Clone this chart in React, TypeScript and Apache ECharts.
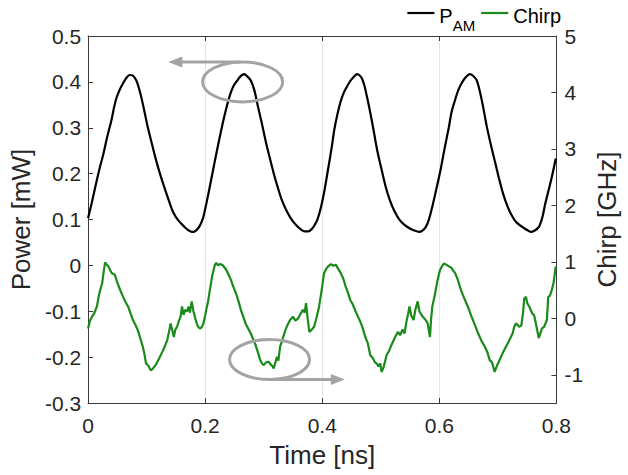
import React, { useEffect, useRef } from "react";
import * as echarts from "echarts";

// ---- Data ----
const xTicks = [0, 0.2, 0.4, 0.6, 0.8];
const chirpTickValues = [-1, 0, 1, 2, 3, 4, 5];

const powerTime = [
  0, 0.006, 0.0123, 0.019, 0.0263, 0.033, 0.04, 0.0445, 0.0487, 0.054, 0.0598, 0.065, 0.071,
  0.076, 0.082, 0.086, 0.0906, 0.096, 0.1018, 0.109, 0.116, 0.123, 0.13, 0.138, 0.146, 0.154, 0.16, 0.166, 0.172, 0.177, 0.182, 0.188,
  0.193, 0.197, 0.205, 0.2135, 0.222, 0.23, 0.236, 0.2415, 0.248, 0.2555, 0.261, 0.2667,
  0.272, 0.278, 0.284, 0.289, 0.296, 0.303, 0.31, 0.317, 0.324, 0.331, 0.339, 0.348, 0.356, 0.363, 0.37, 0.376, 0.382,
  0.387, 0.392, 0.398, 0.404, 0.41, 0.416, 0.4205, 0.426, 0.4316, 0.437, 0.4428, 0.448, 0.454, 0.4595,
  0.464, 0.468, 0.472, 0.4763, 0.482, 0.4876, 0.494, 0.5015, 0.508, 0.5154, 0.523, 0.532, 0.54, 0.549, 0.557, 0.5657, 0.571, 0.577,
  0.582, 0.588, 0.595, 0.602, 0.609, 0.6161, 0.621, 0.627, 0.632, 0.638, 0.645, 0.652,
  0.657, 0.6636, 0.669, 0.6747, 0.681, 0.6887, 0.696, 0.7026, 0.709, 0.7166, 0.724, 0.7307, 0.738, 0.745, 0.75, 0.756, 0.763, 0.77,
  0.776, 0.781, 0.7865, 0.7922, 0.7989,
];
const powerValues = [
  0.103, 0.135, 0.171, 0.208, 0.244, 0.282, 0.317, 0.345, 0.366, 0.383, 0.397, 0.408, 0.415,
  0.414, 0.404, 0.39, 0.368, 0.337, 0.302, 0.265, 0.23, 0.199, 0.171, 0.141, 0.114, 0.098, 0.09, 0.082, 0.076, 0.073, 0.074, 0.081,
  0.092, 0.106, 0.153, 0.208, 0.262, 0.31, 0.342, 0.368, 0.39, 0.404, 0.413, 0.417,
  0.412, 0.403, 0.382, 0.353, 0.314, 0.273, 0.236, 0.201, 0.17, 0.142, 0.119, 0.099, 0.087, 0.079, 0.074, 0.074, 0.079,
  0.088, 0.101, 0.128, 0.165, 0.21, 0.256, 0.295, 0.33, 0.358, 0.377, 0.391, 0.402, 0.411, 0.417,
  0.414, 0.407, 0.392, 0.368, 0.333, 0.295, 0.25, 0.208, 0.173, 0.142, 0.119, 0.099, 0.089, 0.081, 0.076, 0.073, 0.076, 0.084,
  0.099, 0.128, 0.167, 0.208, 0.255, 0.3, 0.335, 0.361, 0.381, 0.397, 0.41, 0.417,
  0.414, 0.404, 0.38, 0.346, 0.303, 0.259, 0.221, 0.186, 0.156, 0.128, 0.108, 0.095, 0.087, 0.081, 0.077, 0.073, 0.076, 0.084,
  0.105, 0.135, 0.163, 0.193, 0.233,
];

const chirpTime = [
  0, 0.003, 0.0067, 0.011, 0.0151, 0.018, 0.0207, 0.024, 0.0263, 0.029, 0.032, 0.0347, 0.037, 0.0403, 0.043, 0.0458, 0.049, 0.0515,
  0.056, 0.0599, 0.064, 0.0683, 0.072, 0.0766, 0.081, 0.085, 0.089, 0.0934, 0.096, 0.099, 0.103, 0.107, 0.11, 0.113, 0.116, 0.1185,
  0.122, 0.127, 0.131, 0.1353, 0.138, 0.141, 0.144, 0.1465, 0.149, 0.152, 0.155, 0.158, 0.1605, 0.163, 0.166, 0.169, 0.1716, 0.174,
  0.177, 0.18, 0.183, 0.1857, 0.188, 0.191, 0.194, 0.197, 0.2, 0.2024, 0.205, 0.208, 0.212, 0.2164, 0.219, 0.222, 0.226, 0.23,
  0.233, 0.236, 0.24, 0.244, 0.248, 0.2527, 0.257, 0.261, 0.265, 0.269, 0.273, 0.2779, 0.282, 0.286, 0.29, 0.294, 0.297, 0.3,
  0.304, 0.3086, 0.312, 0.315, 0.317, 0.32, 0.3225, 0.325, 0.328, 0.332, 0.336, 0.34, 0.345, 0.35, 0.354, 0.3589, 0.363, 0.367,
  0.37, 0.3723, 0.375, 0.378, 0.382, 0.386, 0.39, 0.3946, 0.399, 0.403, 0.407, 0.411, 0.415, 0.419, 0.423, 0.427, 0.4316, 0.436,
  0.44, 0.444, 0.448, 0.452, 0.457, 0.461, 0.465, 0.469, 0.4735, 0.478, 0.4819, 0.486, 0.49, 0.493, 0.496, 0.499, 0.5015, 0.505,
  0.51, 0.514, 0.517, 0.521, 0.525, 0.5295, 0.533, 0.537, 0.5405, 0.544, 0.547, 0.549, 0.552, 0.556, 0.559, 0.563, 0.566, 0.5714,
  0.575, 0.578, 0.58, 0.584, 0.586, 0.588, 0.592, 0.597, 0.601, 0.605, 0.608, 0.612, 0.6161, 0.62, 0.624, 0.627, 0.631, 0.636,
  0.64, 0.644, 0.649, 0.655, 0.66, 0.6664, 0.672, 0.6776, 0.682, 0.686, 0.69, 0.6945, 0.698, 0.703, 0.708, 0.714, 0.719, 0.7251,
  0.728, 0.7307, 0.734, 0.7363, 0.74, 0.743, 0.745, 0.748, 0.75, 0.754, 0.7585, 0.762, 0.766, 0.7698, 0.773, 0.7753, 0.779, 0.7837,
  0.786, 0.789, 0.792, 0.795, 0.7989,
];
const chirpValues = [
  -0.18, -0.05, 0.03, 0.1, 0.21, 0.38, 0.5, 0.62, 0.8, 0.99, 0.95, 0.92, 0.87, 0.8, 0.79, 0.77, 0.66, 0.59,
  0.47, 0.38, 0.29, 0.21, 0.1, -0.03, -0.12, -0.21, -0.35, -0.5, -0.62, -0.8, -0.84, -0.92, -0.9, -0.86, -0.82, -0.77,
  -0.7, -0.59, -0.5, -0.38, -0.25, -0.09, -0.22, -0.33, -0.2, -0.15, -0.05, 0.03, 0.21, 0.06, 0.15, 0.12, 0.21, 0.1,
  0.3, 0.12, 0.0, -0.09, -0.15, -0.18, -0.16, -0.09, 0.05, 0.18, 0.3, 0.5, 0.75, 0.94, 0.98, 0.94, 0.96, 0.94,
  0.9, 0.86, 0.77, 0.68, 0.56, 0.44, 0.3, 0.15, 0.03, -0.09, -0.17, -0.27, -0.37, -0.47, -0.6, -0.74, -0.8, -0.83,
  -0.78, -0.77, -0.82, -0.85, -0.89, -0.78, -0.68, -0.75, -0.5, -0.38, -0.24, -0.13, -0.03, 0.03, -0.04, 0.0, 0.08, 0.15,
  0.1, 0.27, 0.0, -0.24, -0.2, -0.15, 0.0, 0.21, 0.5, 0.8, 0.88, 0.93, 0.96, 0.93, 0.95, 0.88, 0.8, 0.7,
  0.56, 0.45, 0.32, 0.25, 0.12, 0.03, -0.06, -0.17, -0.33, -0.45, -0.65, -0.7, -0.78, -0.8, -0.85, -0.8, -0.95, -0.86,
  -0.65, -0.58, -0.5, -0.41, -0.32, -0.24, -0.3, -0.2, -0.27, -0.05, 0.1, 0.21, 0.05, -0.03, 0.15, 0.3, 0.12, 0.03,
  -0.01, -0.05, -0.09, -0.33, 0.0, 0.21, 0.4, 0.68, 0.85, 0.93, 0.97, 0.95, 0.92, 0.9, 0.84, 0.8, 0.7, 0.53,
  0.42, 0.32, 0.2, 0.03, -0.1, -0.27, -0.4, -0.5, -0.6, -0.74, -0.78, -0.95, -0.85, -0.74, -0.62, -0.5, -0.4, -0.27,
  -0.15, -0.09, -0.12, -0.15, -0.13, 0.1, 0.35, 0.38, 0.27, 0.2, 0.09, 0.05, -0.15, -0.35, -0.25, -0.18, -0.15, -0.03,
  0.38, 0.4, 0.5, 0.62, 0.92,
];

// Annotation anchors in data units: [time, value]
const powerCircle = [0.264, 0.4]; // on left axis (Power)
const powerArrowTip = [0.137, 0.443];
const chirpCircle = [0.31, -0.73]; // on right axis (Chirp)
const chirpArrowTip = [0.4385, -1.11];

const FONT = "Liberation Sans, Arial, Helvetica, sans-serif";
const TXT = "#262626";
const AX = "#3a3a3a";
const ANNO = "#a3a3a3";
const TICK_FS = 21;
const TITLE_FS = 26;

export default function App() {
  const ref = useRef<HTMLDivElement>(null);

  useEffect(() => {
    if (!ref.current) return;
    const chart = echarts.init(ref.current, null, { renderer: "svg" });

    const powerData = powerTime.map((t, i) => [t, powerValues[i]]);
    const chirpData = chirpTime.map((t, i) => [t, chirpValues[i]]);

    const option: any = {
      animation: false,
      backgroundColor: "#ffffff",
      textStyle: { fontFamily: FONT },
      grid: { left: 85, right: 65, top: 36, bottom: 72, containLabel: false },
      legend: {
        right: 62,
        top: 1,
        icon: "rect",
        itemWidth: 27,
        itemHeight: 2.2,
        itemGap: 6,
        data: ["PAM", "Chirp"],
        formatter: (name: string) => (name === "PAM" ? "{p|P}{s|AM}" : "{p|" + name + "}"),
        textStyle: {
          fontFamily: FONT,
          color: "#000",
          fontSize: 20,
          rich: {
            p: { fontSize: 20, fontFamily: FONT, color: "#000", lineHeight: 26, verticalAlign: "bottom" },
            s: { fontSize: 15, fontFamily: FONT, color: "#000", lineHeight: 26, verticalAlign: "bottom", padding: [0, 0, -7, 0] },
          },
        },
      },
      xAxis: [
        {
          type: "value",
          min: 0,
          max: 0.8,
          interval: 0.2,
          name: "Time [ns]",
          nameLocation: "middle",
          nameGap: 39,
          nameTextStyle: { fontSize: TITLE_FS, color: TXT, fontFamily: FONT },
          axisLine: { show: true, onZero: false, lineStyle: { color: AX, width: 1 } },
          axisTick: { show: true, inside: true, length: 5, lineStyle: { color: AX } },
          axisLabel: {
            fontSize: TICK_FS,
            color: TXT,
            margin: 12,
            fontFamily: FONT,
            formatter: (v: number) => {
              const m = xTicks.find((x) => Math.abs(x - v) < 1e-9);
              return m === undefined ? "" : String(m);
            },
          },
          splitLine: { show: true, lineStyle: { color: "#e6e6e6", width: 1 } },
        },
        {
          type: "value",
          position: "top",
          min: 0,
          max: 0.8,
          interval: 0.2,
          axisLine: { show: true, onZero: false, lineStyle: { color: AX, width: 1 } },
          axisTick: { show: true, inside: true, length: 5, lineStyle: { color: AX } },
          axisLabel: { show: false },
          splitLine: { show: false },
        },
      ],
      yAxis: [
        {
          type: "value",
          position: "left",
          min: -0.3,
          max: 0.5,
          interval: 0.1,
          name: "Power [mW]",
          nameLocation: "middle",
          nameRotate: 90,
          nameGap: 52,
          nameTextStyle: { fontSize: TITLE_FS, color: TXT, fontFamily: FONT },
          axisLine: { show: true, onZero: false, lineStyle: { color: AX, width: 1 } },
          axisTick: { show: true, inside: true, length: 5, lineStyle: { color: AX } },
          axisLabel: { fontSize: TICK_FS, color: TXT, margin: 7, fontFamily: FONT },
          splitLine: { show: false },
        },
        {
          type: "value",
          position: "right",
          min: -1.5,
          max: 5,
          interval: 0.5,
          name: "Chirp [GHz]",
          nameLocation: "middle",
          nameRotate: 90,
          nameGap: 36,
          nameTextStyle: { fontSize: TITLE_FS, color: TXT, fontFamily: FONT },
          axisLine: { show: true, onZero: false, lineStyle: { color: AX, width: 1 } },
          axisTick: {
            show: true,
            inside: true,
            length: 5,
            lineStyle: { color: AX },
            customValues: chirpTickValues,
          },
          axisLabel: {
            fontSize: TICK_FS,
            color: TXT,
            margin: 8,
            fontFamily: FONT,
            customValues: chirpTickValues,
          },
          splitLine: { show: false },
        },
      ],
      series: [
        {
          name: "PAM",
          type: "line",
          xAxisIndex: 0,
          yAxisIndex: 0,
          data: powerData,
          symbol: "none",
          smooth: 0.3,
          color: "#000000",
          lineStyle: { color: "#000000", width: 2.2 },
          z: 3,
        },
        {
          name: "Chirp",
          type: "line",
          xAxisIndex: 0,
          yAxisIndex: 1,
          data: chirpData,
          symbol: "none",
          color: "#1a8a1a",
          lineStyle: { color: "#1a8a1a", width: 2.2 },
          z: 3,
        },
      ],
    };

    chart.setOption(option);

    const toPx = (pt: number[], yi: number) =>
      chart.convertToPixel({ xAxisIndex: 0, yAxisIndex: yi }, pt) as number[];

    const rx = 40;
    const ry = 20;
    const c1 = toPx(powerCircle, 0);
    const t1 = toPx(powerArrowTip, 0);
    const c2 = toPx(chirpCircle, 1);
    const t2 = toPx(chirpArrowTip, 1);

    const a1y = c1[1] - ry;
    const a2y = c2[1] + ry;
    const head = 14;
    const half = 5.5;

    chart.setOption({
      graphic: [
        {
          type: "ellipse",
          shape: { cx: c1[0], cy: c1[1], rx, ry },
          style: { fill: "none", stroke: ANNO, lineWidth: 3 },
          z: 10,
        },
        {
          type: "line",
          shape: { x1: c1[0] - 2, y1: a1y, x2: t1[0] + head - 2, y2: a1y },
          style: { stroke: ANNO, lineWidth: 3 },
          z: 10,
        },
        {
          type: "polygon",
          shape: { points: [[t1[0], a1y], [t1[0] + head, a1y - half], [t1[0] + head, a1y + half]] },
          style: { fill: ANNO },
          z: 10,
        },
        {
          type: "ellipse",
          shape: { cx: c2[0], cy: c2[1], rx, ry },
          style: { fill: "none", stroke: ANNO, lineWidth: 3 },
          z: 10,
        },
        {
          type: "line",
          shape: { x1: c2[0] + 2, y1: a2y, x2: t2[0] - head + 2, y2: a2y },
          style: { stroke: ANNO, lineWidth: 3 },
          z: 10,
        },
        {
          type: "polygon",
          shape: { points: [[t2[0], a2y], [t2[0] - head, a2y - half], [t2[0] - head, a2y + half]] },
          style: { fill: ANNO },
          z: 10,
        },
      ],
    });

    return () => {
      chart.dispose();
    };
  }, []);

  return (
    <div
      ref={ref}
      style={{ position: "fixed", left: 0, top: 0, width: 628, height: 475, background: "#fff" }}
    />
  );
}
